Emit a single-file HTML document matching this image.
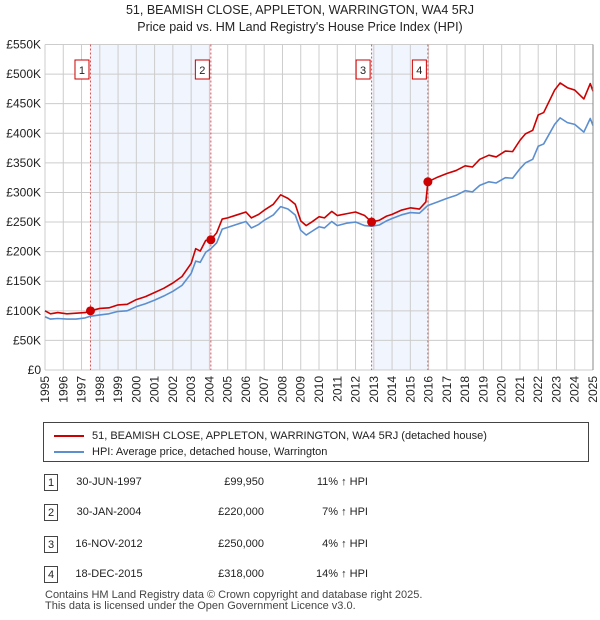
<!DOCTYPE html>
<html><head><meta charset="utf-8">
<style>
body{margin:0;background:#fff;font-family:"Liberation Sans","DejaVu Sans",sans-serif;color:#222}
#wrap{position:relative;width:600px;height:620px}
.t{position:absolute;font-size:12px}
</style></head>
<body>
<div id="wrap">
<svg id="chart" width="600" height="420" style="position:absolute;left:0;top:0"></svg>
<div style="position:absolute;left:43px;top:422px;width:546px;height:40px;border:1px solid #444;box-sizing:border-box">
 <div style="position:absolute;left:10px;top:7px;font-size:11px;"><span style="display:inline-block;width:30px;border-top:2px solid #cc0000;vertical-align:middle;margin-right:8px"></span>51, BEAMISH CLOSE, APPLETON, WARRINGTON, WA4 5RJ (detached house)</div>
 <div style="position:absolute;left:10px;top:23px;font-size:11px;"><span style="display:inline-block;width:30px;border-top:2px solid #5b8fd0;vertical-align:middle;margin-right:8px"></span>HPI: Average price, detached house, Warrington</div>
</div>
<div id="tbl"></div>
<div class="t" style="left:45px;top:590px;font-size:11px;line-height:11px;color:#444">Contains HM Land Registry data © Crown copyright and database right 2025.<br>This data is licensed under the Open Government Licence v3.0.</div>
</div>
<script>
const years=[1995,1995.3,1995.7,1996.2,1996.7,1997.2,1997.5,1998,1998.5,1999,1999.5,2000,2000.5,2001,2001.5,2002,2002.5,2003,2003.25,2003.5,2003.8,2004.08,2004.4,2004.7,2005,2005.5,2006,2006.3,2006.7,2007,2007.5,2007.9,2008.3,2008.7,2009,2009.3,2009.6,2010,2010.3,2010.7,2011,2011.5,2012,2012.5,2012.88,2013.3,2013.7,2014,2014.5,2015,2015.5,2015.85,2015.96,2016.5,2017,2017.5,2018,2018.4,2018.8,2019.3,2019.7,2020.2,2020.6,2021,2021.3,2021.7,2022,2022.3,2022.9,2023.2,2023.6,2024,2024.5,2024.85,2025];
const hpi=[90,86,87,86,86,88,91,93,95,99,100,107,112,118,125,133,143,163,184,182,199,205,215,238,241,246,251,240,246,253,262,276,272,262,236,228,234,242,240,251,244,248,250,244,243,245,252,256,262,266,265,275,278,284,290,295,303,301,312,318,316,325,324,340,350,356,378,382,415,426,418,415,402,425,413];
const prop=[100,95,97,95,96,97,100,104,105,110,111,119,124,131,138,147,158,180,205,201,219,220,232,255,257,262,267,257,263,270,280,296,290,280,252,244,250,259,257,268,261,264,267,261,250,253,260,263,270,274,272,284,318,326,332,337,345,343,356,363,360,370,369,388,399,405,431,435,473,485,477,473,458,484,471];
const saleYears=[1997.49,2004.08,2012.88,2015.96];
const salePrices=[99950,220000,250000,318000];
const saleLabels=["1","2","3","4"];
const saleDates=["30-JUN-1997","30-JAN-2004","16-NOV-2012","18-DEC-2015"];
const salePriceText=["£99,950","£220,000","£250,000","£318,000"];
const saleHpi=["11% ↑ HPI","7% ↑ HPI","4% ↑ HPI","14% ↑ HPI"];
const yTicks=[0,50,100,150,200,250,300,350,400,450,500,550];
const yTickLabels=["£0","£50K","£100K","£150K","£200K","£250K","£300K","£350K","£400K","£450K","£500K","£550K"];
const xTicks=[];for(let y=1995;y<=2025;y++)xTicks.push(y);

const X0=45,X1=593,Y0=370,Y1=44.5;
const x=v=>X0+(v-1995)/30*(X1-X0);
const y=v=>Y0-v/550*(Y0-Y1);
const svg=document.getElementById('chart');
const NS='http://www.w3.org/2000/svg';
function mk(tag,attrs,parent){const e=document.createElementNS(NS,tag);for(const k in attrs)e.setAttribute(k,attrs[k]);(parent||svg).appendChild(e);return e;}
// shading
for(let i=0;i<saleYears.length;i+=2){
 const r=mk('rect',{x:x(saleYears[i]),y:Y1,width:x(saleYears[i+1])-x(saleYears[i]),height:Y0-Y1,fill:'#eef3fd',opacity:0.8});
 
 
}
// grid
xTicks.forEach((t,i)=>{
 const l=mk('line',{x1:x(t),x2:x(t),y1:Y1,y2:Y0,stroke:'#cccccc','stroke-width':1});
 
 
 const tx=mk('text',{x:0,y:0,'font-size':12,'text-anchor':'end',fill:'#222',transform:`translate(${x(t)+4},${Y0+6}) rotate(-90)`});
 tx.textContent=t;
 
 
});
yTicks.forEach((t,i)=>{
 const l=mk('line',{x1:X0,x2:X1,y1:y(t),y2:y(t),stroke:'#cccccc','stroke-width':1});
 
 
 const tx=mk('text',{x:X0-4,y:y(t)+4,'font-size':12,'text-anchor':'end',fill:'#222'});
 tx.textContent=yTickLabels[i];
 
 
});
// title
['51, BEAMISH CLOSE, APPLETON, WARRINGTON, WA4 5RJ',"Price paid vs. HM Land Registry's House Price Index (HPI)"].forEach((s,i)=>{
 const t=mk('text',{x:300,y:14+i*17,'font-size':12.5,'text-anchor':'middle',fill:'#222'});
 t.textContent=s;
 
 
});
// sale markers lines & boxes
saleYears.forEach((s,i)=>{
 const l=mk('line',{x1:x(s),x2:x(s),y1:Y1,y2:Y0,stroke:'#e05050','stroke-width':1,'stroke-dasharray':'2,2'});
 
 
 const b=mk('rect',{x:x(s)-15.5,y:60,width:14,height:19,fill:'#fff',stroke:'#cc0000','stroke-width':1});
 
 
 const t=mk('text',{x:x(s)-8.5,y:74,'font-size':11,'text-anchor':'middle',fill:'#222'});
 t.textContent=saleLabels[i];
 
 
});
function line(vals,color,name){
 const p=mk('polyline',{points:years.map((t,i)=>x(t)+','+y(vals[i])).join(' '),fill:'none',stroke:color,'stroke-width':1.6,'stroke-linejoin':'round'});
 
 
}
line(hpi,'#5b8fd0','hpi-line');
line(prop,'#cc0000','property-line');
saleYears.forEach((s,i)=>{
 const c=mk('circle',{cx:x(s),cy:y(salePrices[i]/1000),r:4.5,fill:'#cc0000'});
 
 
});
mk('line',{x1:X1,x2:X1,y1:Y1,y2:Y0,stroke:'#888','stroke-width':1});
// table
const tbl=document.getElementById('tbl');
const rowY=[483,513,545,575];
saleLabels.forEach((lab,i)=>{
 const r=document.createElement('div');
 
 
 r.style.cssText=`position:absolute;left:0;top:${rowY[i]-9}px;width:600px;height:18px;font-size:11px`;
 r.innerHTML=`<span style="position:absolute;left:44px;top:0;width:14px;height:17px;border:1px solid #444;box-sizing:border-box;text-align:center;line-height:16px">${lab}</span><span style="position:absolute;left:64px;top:2px;width:90px;text-align:center">${saleDates[i]}</span><span style="position:absolute;left:160px;top:2px;width:104px;text-align:right">${salePriceText[i]}</span><span style="position:absolute;left:270px;top:2px;width:98px;text-align:right">${saleHpi[i]}</span>`;
 tbl.appendChild(r);
});
</script>
</body></html>
